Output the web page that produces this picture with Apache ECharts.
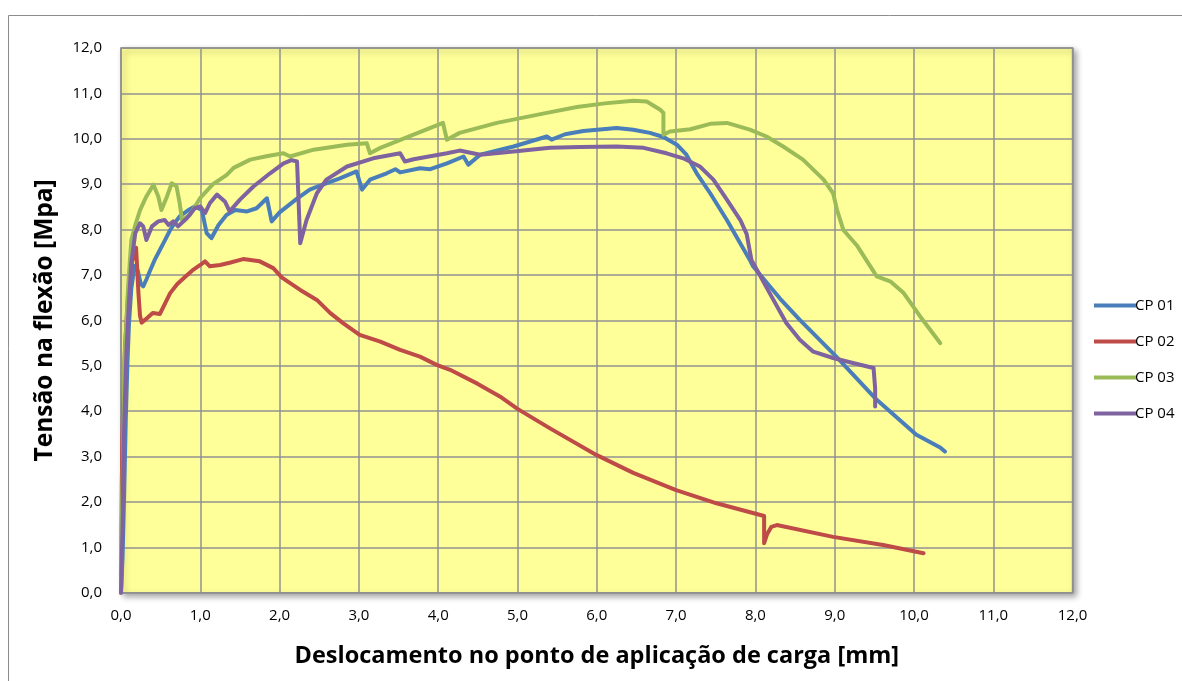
<!DOCTYPE html>
<html>
<head>
<meta charset="utf-8">
<style>
  html, body { margin: 0; padding: 0; background: #ffffff; }
  #chart { width: 1182px; height: 681px; }
</style>
<script src="https://cdn.jsdelivr.net/npm/echarts@6/dist/echarts.min.js"></script>
</head>
<body>
<div id="chart"></div>
<script>
// Flexural test curves: displacement [mm] vs stress [MPa], four specimens
const seriesNames = ['CP 01', 'CP 02', 'CP 03', 'CP 04'];
const seriesColors = ['#4A7EBB', '#BE4B48', '#9BBB59', '#7F62A0'];

const axisTicks = [0, 1, 2, 3, 4, 5, 6, 7, 8, 9, 10, 11, 12];

const cp01 = [
  [0, 0], [0.02, 0.8], [0.04, 2.2], [0.06, 3.8], [0.08, 5.0], [0.1, 5.9], [0.13, 6.7],
  [0.17, 7.2], [0.21, 7.1], [0.25, 6.8], [0.28, 6.75], [0.32, 6.9], [0.37, 7.11],
  [0.43, 7.35], [0.49, 7.55], [0.55, 7.75], [0.62, 7.99], [0.68, 8.15], [0.74, 8.29],
  [0.85, 8.43], [0.93, 8.51], [1.02, 8.43], [1.08, 7.92], [1.14, 7.81], [1.23, 8.1],
  [1.33, 8.32], [1.44, 8.43], [1.59, 8.4], [1.71, 8.47], [1.84, 8.69], [1.9, 8.18],
  [2.0, 8.38], [2.22, 8.68], [2.38, 8.88], [2.51, 8.97], [2.76, 9.13], [2.97, 9.28],
  [3.04, 8.88], [3.14, 9.1], [3.35, 9.24], [3.46, 9.33], [3.52, 9.26], [3.77, 9.35],
  [3.9, 9.33], [4.11, 9.46], [4.32, 9.61], [4.38, 9.43], [4.53, 9.65], [4.95, 9.83],
  [5.37, 10.05], [5.43, 9.98], [5.6, 10.1], [5.83, 10.17], [6.25, 10.24], [6.46, 10.2],
  [6.67, 10.13], [6.84, 10.04], [7.01, 9.87], [7.13, 9.65], [7.26, 9.24], [7.43, 8.8],
  [7.64, 8.21], [7.93, 7.33], [7.97, 7.19], [8.31, 6.48], [8.56, 6.01], [9.02, 5.2],
  [9.53, 4.25], [10.03, 3.48], [10.33, 3.2], [10.39, 3.11]
];

const cp02 = [
  [0, 0], [0.01, 2.4], [0.02, 3.6], [0.05, 5.4], [0.09, 6.6], [0.14, 7.3], [0.19, 7.6],
  [0.22, 6.6], [0.24, 6.1], [0.26, 5.95], [0.33, 6.05], [0.4, 6.16], [0.49, 6.14],
  [0.55, 6.35], [0.62, 6.6], [0.71, 6.8], [0.81, 6.96], [0.9, 7.1], [1.0, 7.22],
  [1.06, 7.3], [1.12, 7.19], [1.25, 7.22], [1.37, 7.27], [1.54, 7.35], [1.75, 7.3],
  [1.92, 7.15], [2.03, 6.94], [2.26, 6.67], [2.47, 6.45], [2.64, 6.16], [2.8, 5.94],
  [3.01, 5.68], [3.27, 5.53], [3.52, 5.35], [3.77, 5.2], [3.98, 5.02], [4.15, 4.91],
  [4.5, 4.6], [4.8, 4.3], [5.0, 4.05], [5.41, 3.62], [6.0, 3.03], [6.46, 2.64],
  [7.0, 2.26], [7.51, 1.97], [8.11, 1.69], [8.11, 1.09], [8.15, 1.3], [8.2, 1.45],
  [8.27, 1.49], [8.98, 1.23], [9.61, 1.05], [10.12, 0.87]
];

const cp03 = [
  [0, 0], [0.01, 1.5], [0.03, 3.5], [0.04, 5.0], [0.07, 6.0], [0.09, 6.75], [0.13, 7.77],
  [0.18, 8.1], [0.24, 8.43], [0.32, 8.73], [0.41, 8.99], [0.47, 8.73], [0.51, 8.43],
  [0.58, 8.73], [0.64, 9.02], [0.7, 8.95], [0.74, 8.58], [0.77, 8.21], [0.87, 8.32],
  [1.0, 8.7], [1.16, 9.0], [1.33, 9.2], [1.42, 9.36], [1.63, 9.54], [1.85, 9.62],
  [2.05, 9.68], [2.13, 9.61], [2.43, 9.76], [2.85, 9.87], [3.1, 9.9], [3.14, 9.68],
  [3.27, 9.8], [3.69, 10.09], [4.06, 10.35], [4.11, 9.98], [4.27, 10.13], [4.74, 10.35],
  [5.37, 10.57], [5.75, 10.7], [6.1, 10.78], [6.46, 10.84], [6.63, 10.82], [6.8, 10.64],
  [6.84, 10.57], [6.84, 10.09], [6.92, 10.16], [7.18, 10.21], [7.43, 10.33], [7.64, 10.35],
  [7.93, 10.2], [8.14, 10.05], [8.35, 9.83], [8.6, 9.54], [8.86, 9.1], [8.98, 8.8],
  [9.03, 8.43], [9.11, 7.99], [9.28, 7.65], [9.53, 6.97], [9.7, 6.86], [9.87, 6.6],
  [10.08, 6.08], [10.33, 5.5]
];

const cp04 = [
  [0, 0], [0.02, 1.5], [0.03, 3.0], [0.05, 4.3], [0.07, 5.35], [0.1, 6.4], [0.13, 7.26],
  [0.18, 7.92], [0.24, 8.14], [0.28, 8.07], [0.32, 7.77], [0.39, 8.07], [0.47, 8.18],
  [0.55, 8.21], [0.6, 8.1], [0.66, 8.18], [0.72, 8.07], [0.83, 8.25], [0.93, 8.47],
  [1.0, 8.51], [1.06, 8.36], [1.12, 8.58], [1.21, 8.77], [1.31, 8.62], [1.37, 8.4],
  [1.5, 8.66], [1.67, 8.95], [1.88, 9.24], [2.05, 9.46], [2.15, 9.53], [2.22, 9.5],
  [2.24, 8.6], [2.26, 7.7], [2.34, 8.21], [2.47, 8.8], [2.59, 9.1], [2.85, 9.39],
  [3.18, 9.57], [3.52, 9.68], [3.58, 9.5], [3.69, 9.55], [4.11, 9.68], [4.27, 9.74],
  [4.53, 9.65], [4.95, 9.72], [5.41, 9.8], [5.79, 9.82], [6.25, 9.83], [6.59, 9.8],
  [6.88, 9.68], [7.09, 9.57], [7.3, 9.39], [7.47, 9.1], [7.64, 8.66], [7.81, 8.21],
  [7.89, 7.9], [7.95, 7.33], [8.02, 7.11], [8.18, 6.6], [8.39, 5.94], [8.56, 5.57],
  [8.73, 5.31], [8.98, 5.17], [9.23, 5.06], [9.49, 4.95], [9.51, 4.5], [9.51, 4.1]
];

const seriesData = [cp01, cp02, cp03, cp04];

const FONT = '"Open Sans", "DejaVu Sans", sans-serif';
const fmt = v => v.toFixed(1).replace('.', ',');

const chart = echarts.init(document.getElementById('chart'), null, { renderer: 'canvas' });

chart.setOption({
  backgroundColor: '#ffffff',
  animation: false,
  graphic: [{
    type: 'rect',
    shape: { x: 8.5, y: 15.5, width: 1300, height: 800 },
    style: { fill: 'none', stroke: '#8c8c8c', lineWidth: 1 },
    silent: true,
    z: -10
  }],
  grid: {
    left: 121, top: 48, right: 109.4, bottom: 88.3,
    show: true,
    backgroundColor: '#FFFF99',
    borderColor: '#868686',
    borderWidth: 1.5,
    shadowColor: 'rgba(0,0,0,0.35)',
    shadowBlur: 6,
    shadowOffsetX: 3,
    shadowOffsetY: 3
  },
  legend: {
    orient: 'vertical',
    left: 1089,
    top: 293,
    itemWidth: 42,
    itemHeight: 14,
    itemGap: 21,
    icon: 'path://M0,5 L42,5 L42,9 L0,9 Z',
    textStyle: { fontFamily: FONT, fontSize: 15, color: '#000', padding: [0, 0, 0, -6] },
    data: seriesNames
  },
  xAxis: {
    type: 'value',
    min: axisTicks[0],
    max: axisTicks[axisTicks.length - 1],
    interval: 1,
    name: 'Deslocamento no ponto de aplicação de carga [mm]',
    nameLocation: 'middle',
    nameGap: 52,
    nameTextStyle: { fontFamily: FONT, fontSize: 23.5, fontWeight: 'bold', color: '#000' },
    axisLine: { show: false },
    axisTick: { show: false },
    axisLabel: { formatter: fmt, fontFamily: FONT, fontSize: 15, color: '#000', margin: 16 },
    splitLine: { show: true, lineStyle: { color: '#929292', width: 1.5 } }
  },
  yAxis: {
    type: 'value',
    min: axisTicks[0],
    max: axisTicks[axisTicks.length - 1],
    interval: 1,
    name: 'Tensão na flexão [Mpa]',
    nameLocation: 'middle',
    nameGap: 63,
    nameTextStyle: { fontFamily: FONT, fontSize: 24.5, fontWeight: 'bold', color: '#000' },
    axisLine: { show: false },
    axisTick: { show: false },
    axisLabel: { formatter: fmt, fontFamily: FONT, fontSize: 15, color: '#000', margin: 19 },
    splitLine: { show: true, lineStyle: { color: '#929292', width: 1.5 } }
  },
  series: seriesNames.map((name, i) => ({
    name: name,
    type: 'line',
    data: seriesData[i],
    symbol: 'none',
    smooth: false,
    clip: true,
    lineStyle: { color: seriesColors[i], width: 4, cap: 'round', join: 'round' },
    itemStyle: { color: seriesColors[i] }
  }))
});
</script>
</body>
</html>
